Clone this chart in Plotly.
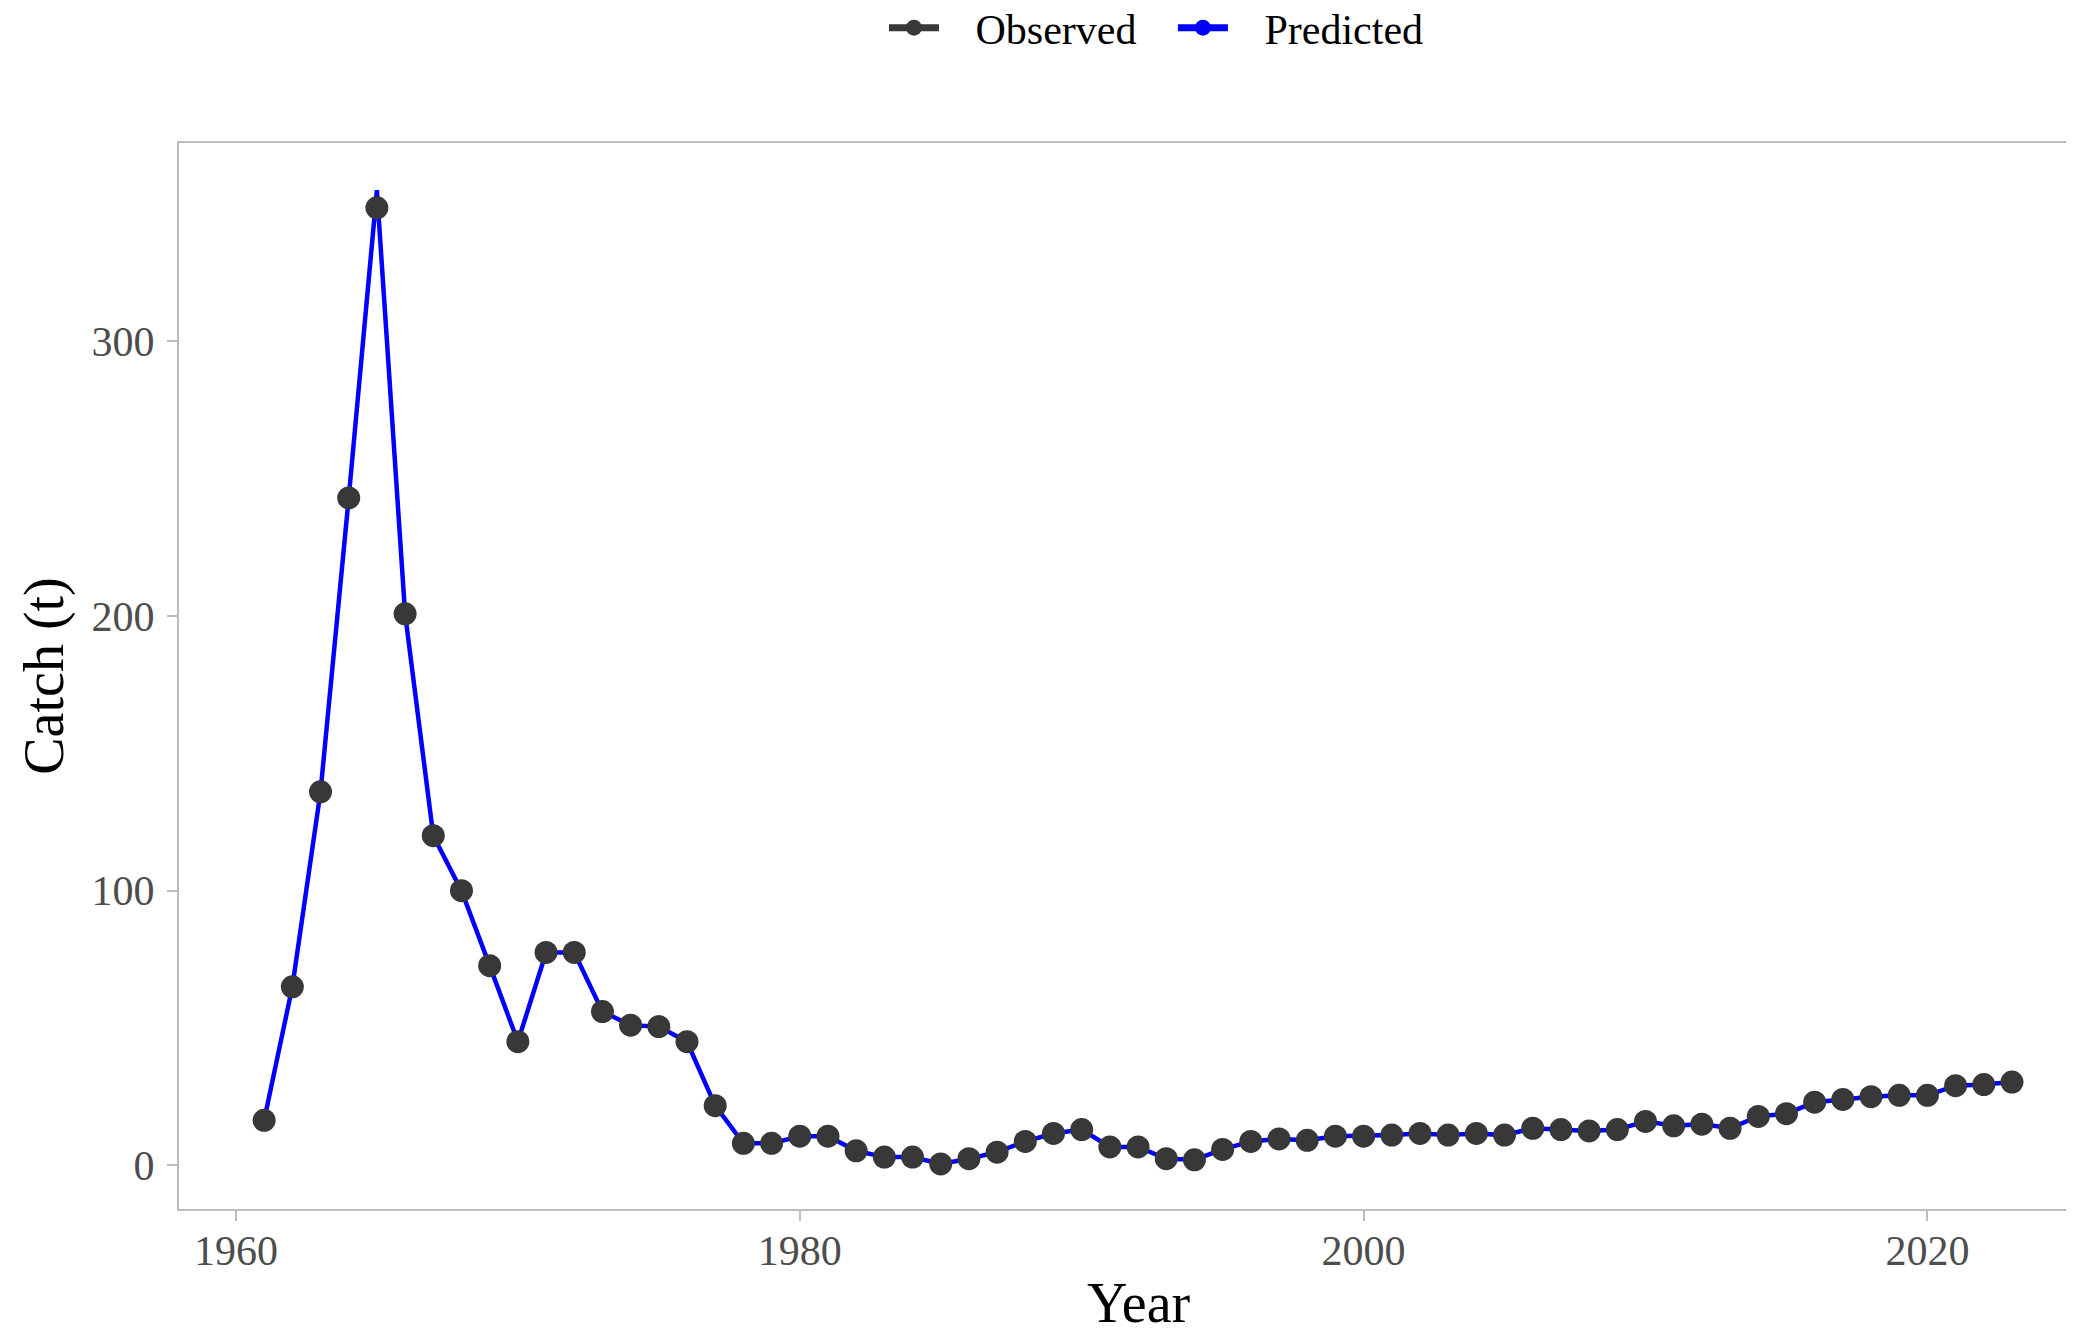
import plotly.graph_objects as go

# ── Data ────────────────────────────────────────────────────────────────────
years = list(range(1961, 2024))

observed = [
    16.4, 65, 136, 243, 348.6, 200.8, 120, 100, 72.7, 45,
    77.5, 77.5, 56, 51, 50.5, 45, 21.7, 8, 8, 10.6,
    10.6, 5.3, 3, 3, 0.5, 2.4, 4.8, 8.7, 11.6, 13,
    6.7, 6.7, 2.4, 2, 5.8, 8.7, 9.6, 9.1, 10.6, 10.6,
    11, 11.6, 11, 11.6, 11, 13.5, 13, 12.5, 13, 16,
    14.4, 15, 13.5, 17.8, 18.8, 23, 24, 25, 25.5, 25.5,
    29, 29.4, 30.3,
]

predicted = [
    16.4, 65, 136, 243, 355, 200.8, 120, 100, 72.7, 45,
    77.5, 77.5, 56, 51, 50.5, 45, 21.7, 8, 8, 10.6,
    10.6, 5.3, 3, 3, 0.5, 2.4, 4.8, 8.7, 11.6, 13,
    6.7, 6.7, 2.4, 2, 5.8, 8.7, 9.6, 9.1, 10.6, 10.6,
    11, 11.6, 11, 11.6, 11, 13.5, 13, 12.5, 13, 16,
    14.4, 15, 13.5, 17.8, 18.8, 23, 24, 25, 25.5, 25.5,
    29, 29.4, 30.3,
]

OBS_COL = "#383838"
PRED_COL = "#0000ff"
FONT = "Liberation Serif"
NBSP = "\u00a0"

fig = go.Figure()

# predicted line underneath the observed points
fig.add_trace(go.Scatter(
    x=years, y=predicted, mode="lines", name="Predicted",
    line=dict(color=PRED_COL, width=4.5), showlegend=False,
))
fig.add_trace(go.Scatter(
    x=years, y=observed, mode="markers", name="Observed",
    marker=dict(color=OBS_COL, size=23), showlegend=False,
))

# legend keys (line + point, as in the ggplot legend)
for name, col in [("Observed", OBS_COL), ("Predicted", PRED_COL)]:
    fig.add_trace(go.Scatter(
        x=[None], y=[None], mode="lines+markers",
        name=NBSP * 3 + name + NBSP * 3,
        line=dict(color=col, width=7), marker=dict(color=col, size=22),
    ))

axis_common = dict(
    showgrid=False, zeroline=False,
    showline=True, linecolor="#bdbdbd", linewidth=2,
    ticks="outside", tickcolor="#bdbdbd", ticklen=10, tickwidth=2,
    tickfont=dict(family=FONT, size=42, color="#4d4d4d"),
)

fig.update_xaxes(
    **axis_common, mirror=True, ticklabelstandoff=-6,
    range=[1957.98, 2025.2], tickvals=[1960, 1980, 2000, 2020],
)
fig.update_yaxes(
    **axis_common, ticklabelstandoff=4,
    range=[-15.9, 372.2], tickvals=[0, 100, 200, 300],
    title=dict(text="Catch (t)", font=dict(family=FONT, size=56, color="black"), standoff=10),
)

# x title sits at the centre of the (partly cropped) ggplot panel
fig.add_annotation(
    text="Year", xref="paper", yref="paper", x=0.5065, y=-0.088,
    xanchor="center", yanchor="middle", showarrow=False,
    font=dict(family=FONT, size=56, color="black"),
)

fig.update_layout(
    width=2066, height=1325,
    paper_bgcolor="white", plot_bgcolor="white",
    margin=dict(l=171, r=0, t=135, b=124),
    font=dict(family=FONT),
    legend=dict(
        orientation="h", xref="container", yref="container",
        x=0.424, xanchor="left", y=0.985, yanchor="middle",
        font=dict(family=FONT, size=42, color="black"),
        itemwidth=50,
    ),
)

fig.write_html("out.html")
